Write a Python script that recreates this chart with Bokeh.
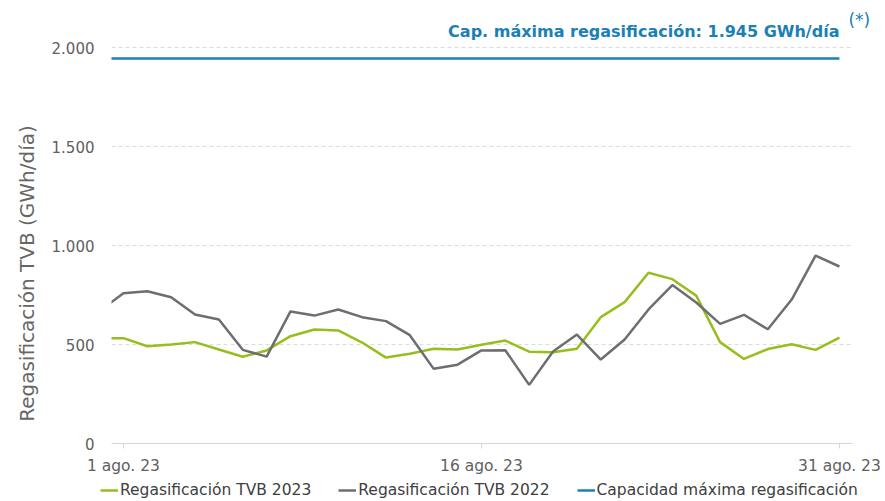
import math
import pandas as pd
from bokeh.plotting import figure
from bokeh.layouts import row, column
from bokeh.models import (ColumnDataSource, Range1d, FixedTicker, CustomJSTickFormatter,
                          Legend, LegendItem, Label)
from bokeh.embed import file_html
from bokeh.resources import INLINE

# ---- data ----
fechas = pd.date_range("2023-07-31", "2023-08-31", freq="D").strftime("%Y-%m-%d").tolist()
regas_2023 = [532, 532, 491, 500, 512, 475, 438, 470, 542, 576, 571, 510, 434, 453, 479, 475,
              499, 520, 464, 461, 479, 638, 714, 862, 830, 747, 512, 427, 477, 501, 473, 535]
regas_2022 = [669, 759, 769, 739, 652, 626, 473, 439, 667, 646, 677, 638, 618, 547, 377, 398,
              470, 471, 296, 465, 550, 424, 525, 677, 800, 712, 604, 650, 577, 727, 949, 894]
capacidad = 1945
ticks_fechas = ["2023-08-01", "2023-08-16", "2023-08-31"]
y_ticks = [0, 500, 1000, 1500, 2000]

nombre_2023 = "Regasificación TVB 2023"
nombre_2022 = "Regasificación TVB 2022"
nombre_cap = "Capacidad máxima regasificación"
titulo_y = "Regasificación TVB (GWh/día)"

# ---- styling ----
GREEN = "#96BE1E"
GRAY = "#6D6E71"
BLUE = "#1A80B6"
FONT = "DejaVu Sans"
LEFT_W = 45
MAIN_H = 478
FRAME_BOTTOM = 443

x = pd.to_datetime(fechas) + pd.Timedelta(hours=12)
src = ColumnDataSource(dict(x=x, g23=regas_2023, g22=regas_2022,
                            cap=[capacidad] * len(fechas)))

x_start = pd.Timestamp("2023-08-01")
x_axis_end = pd.Timestamp("2023-09-01") + pd.Timedelta(hours=1)
x_frame_end = x_start + pd.Timedelta(days=32.43)


def blank(fig):
    fig.outline_line_color = None
    fig.background_fill_color = "white"
    fig.border_fill_color = "white"


# ---------------- main chart ----------------
p = figure(width=885 - LEFT_W, height=MAIN_H, x_axis_type="datetime",
           x_range=Range1d(x_start, x_frame_end), y_range=Range1d(0, 2237.4),
           output_backend="svg", toolbar_location=None,
           min_border_left=111 - LEFT_W, min_border_right=0, min_border_top=0,
           min_border_bottom=MAIN_H - FRAME_BOTTOM)
blank(p)
p.xgrid.grid_line_color = None
p.ygrid.grid_line_color = None

# dashed horizontal grid lines (limited to the axis extent)
gy = y_ticks[1:]
p.segment(x0=[x_start] * len(gy), x1=[x_axis_end] * len(gy), y0=gy, y1=gy,
          line_color="#dcdcdc", line_dash="4 3", line_width=1)

r23 = p.line("x", "g23", source=src, line_color=GREEN, line_width=2.5)
r22 = p.line("x", "g22", source=src, line_color=GRAY, line_width=2.5)
rcap = p.line("x", "cap", source=src, line_color=BLUE, line_width=2.5)

# x axis
tick_ms = [(pd.Timestamp(t) + pd.Timedelta(hours=12)).value / 1e6 for t in ticks_fechas]
p.xaxis.ticker = FixedTicker(ticks=tick_ms)
p.xaxis.formatter = CustomJSTickFormatter(code="""
const meses = ["ene.","feb.","mar.","abr.","may.","jun.","jul.","ago.","sep.","oct.","nov.","dic."];
const d = new Date(tick);
return d.getUTCDate() + " " + meses[d.getUTCMonth()] + " " + String(d.getUTCFullYear()).slice(2);
""")
p.xaxis.bounds = (x_start.value / 1e6, x_axis_end.value / 1e6)
p.xaxis.axis_line_color = "#d6d6d6"
p.xaxis.major_tick_line_color = "#d6d6d6"
p.xaxis.major_tick_out = 5
p.xaxis.major_tick_in = 0
p.xaxis.minor_tick_line_color = None
p.xaxis.major_label_text_font = FONT
p.xaxis.major_label_text_font_size = "15.5px"
p.xaxis.major_label_text_color = "#606060"
p.xaxis.major_label_standoff = 8

# y axis
p.yaxis.ticker = FixedTicker(ticks=y_ticks)
p.yaxis.formatter = CustomJSTickFormatter(code="""
if (tick >= 1000) { return Math.floor(tick/1000) + "." + String(tick % 1000).padStart(3, "0"); }
return String(tick);
""")
p.yaxis.axis_line_color = None
p.yaxis.major_tick_line_color = None
p.yaxis.minor_tick_line_color = None
p.yaxis.major_label_text_font = FONT
p.yaxis.major_label_text_font_size = "15px"
p.yaxis.major_label_text_color = "#606060"
p.yaxis.major_label_standoff = 11

# capacity annotation
cap_txt = "Cap. máxima regasificación: " + f"{capacidad:,}".replace(",", ".") + " GWh/día"
p.add_layout(Label(x=x[-1], y=capacidad, y_offset=27, text=cap_txt, text_align="right",
                   text_baseline="alphabetic", text_font=FONT, text_font_size="16px",
                   text_font_style="bold", text_color=BLUE))
p.add_layout(Label(x=x[-1], y=capacidad, x_offset=9, y_offset=38, text="(*)",
                   text_align="left", text_baseline="alphabetic", text_font=FONT,
                   text_font_size="17px", text_color=BLUE))

# ---------------- y axis title strip (its frame aligns with the chart frame) ----------------
left = figure(width=LEFT_W, height=MAIN_H, x_axis_type=None, y_axis_type=None,
              x_range=Range1d(0, LEFT_W), y_range=Range1d(0, FRAME_BOTTOM),
              output_backend="svg", toolbar_location=None, min_border=0)
blank(left)
left.grid.visible = False
left.add_layout(Label(x=26, y=FRAME_BOTTOM - 273, text=titulo_y, angle=math.pi / 2,
                      text_align="center", text_baseline="middle", text_font=FONT,
                      text_font_size="20px", text_color="#666666"))

# ---------------- legend strip ----------------
leg = figure(width=885, height=501 - MAIN_H, x_axis_type=None, y_axis_type=None,
             x_range=Range1d(0, 1), y_range=Range1d(0, 1),
             output_backend="svg", toolbar_location=None, min_border=0)
blank(leg)
leg.grid.visible = False
# same series, outside this strip's ranges: only their legend swatches show
l23 = leg.line("x", "g23", source=src, line_color=GREEN, line_width=2.5)
l22 = leg.line("x", "g22", source=src, line_color=GRAY, line_width=2.5)
lcap = leg.line("x", "cap", source=src, line_color=BLUE, line_width=2.5)
legend = Legend(items=[LegendItem(label=nombre_2023, renderers=[l23]),
                       LegendItem(label=nombre_2022, renderers=[l22]),
                       LegendItem(label=nombre_cap, renderers=[lcap])],
                location=(100, 0), orientation="horizontal",
                border_line_color=None, background_fill_alpha=0,
                padding=0, margin=0, glyph_width=18, glyph_height=20,
                label_standoff=2, spacing=27, label_height=501 - MAIN_H,
                label_text_font=FONT, label_text_font_size="15.5px",
                label_text_color="#404040")
leg.add_layout(legend)

layout = column(row(left, p), leg)
open("out.html", "w").write(file_html(layout, INLINE))
